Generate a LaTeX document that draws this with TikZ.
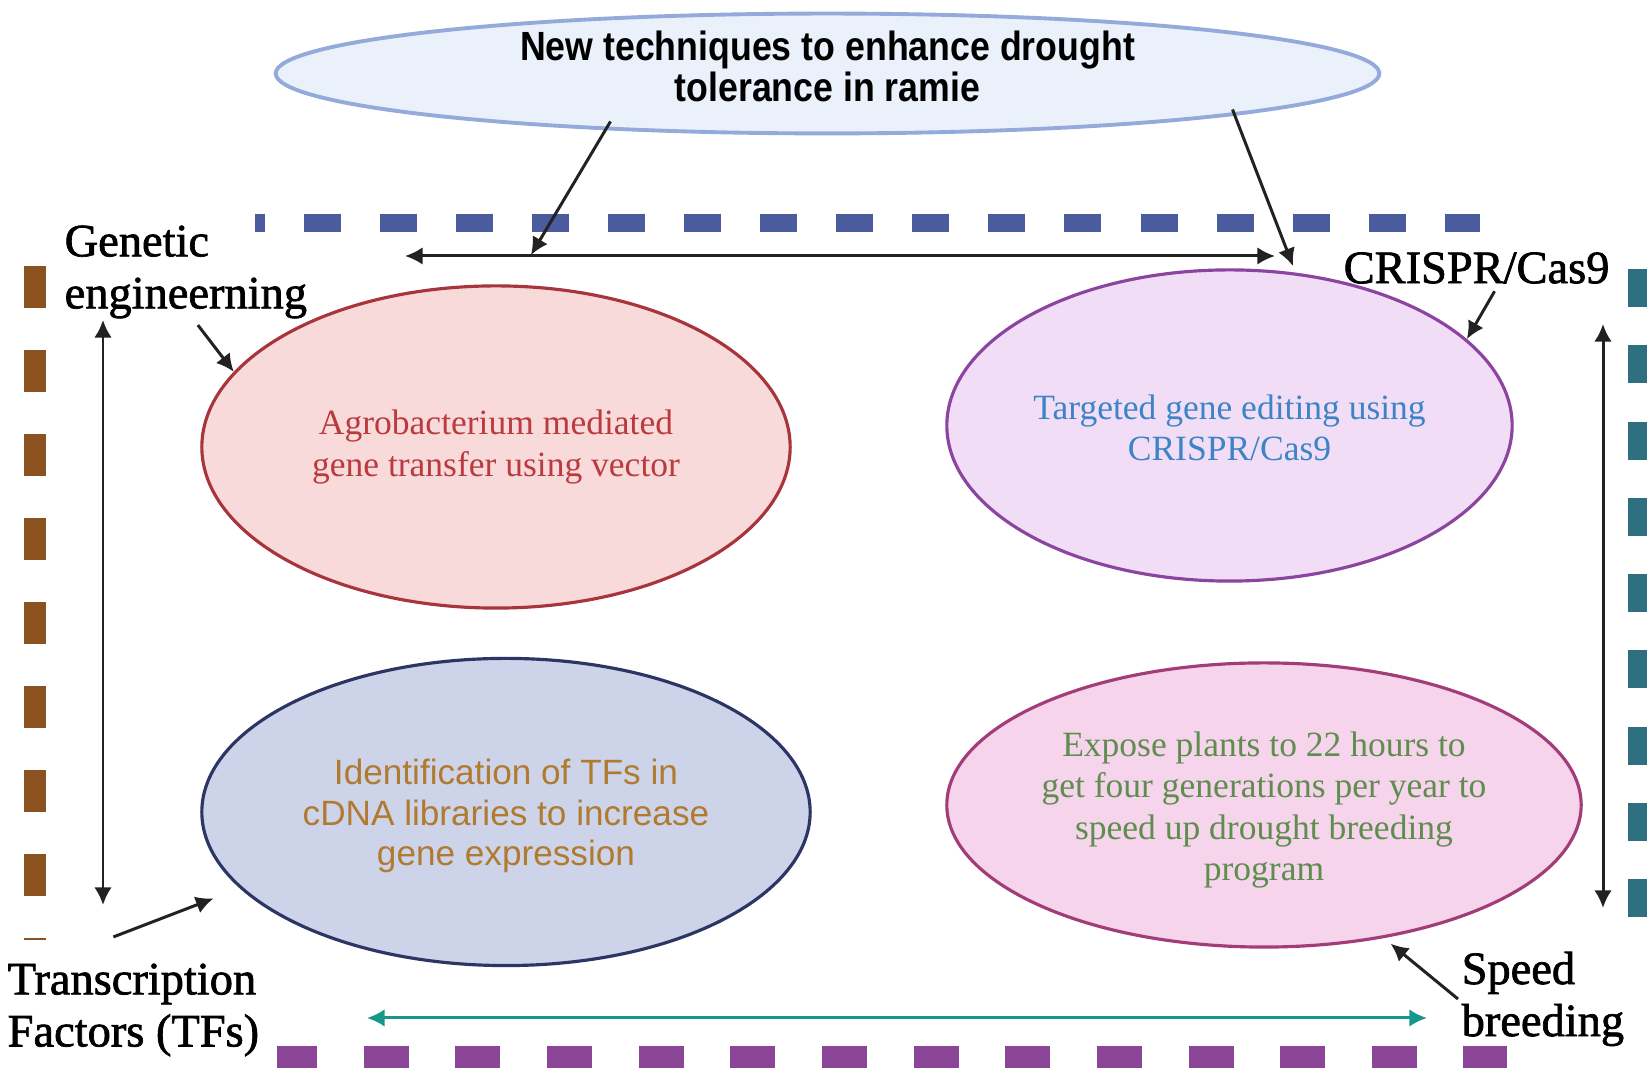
\documentclass[tikz,border=0pt]{standalone}
\usepackage{fontspec}
\setmainfont{Liberation Serif}
\newfontfamily\titlefont[FakeStretch=0.875]{Liberation Sans}
\newfontfamily\plainsans{Liberation Sans}
\newfontfamily\labelfont[FakeBold=1.5]{Liberation Serif}
\usepackage{xcolor}
\usetikzlibrary{arrows.meta,calc,positioning,shapes.geometric}

\definecolor{topfill}{HTML}{EAF1FB}
\definecolor{topedge}{HTML}{94AADB}
\definecolor{agrofill}{HTML}{F9DADB}
\definecolor{agroedge}{HTML}{A8343C}
\definecolor{agrotext}{HTML}{BA3A3E}
\definecolor{crisprfill}{HTML}{F2DDF7}
\definecolor{crispredge}{HTML}{8B449F}
\definecolor{crisprtext}{HTML}{3C84C6}
\definecolor{tffill}{HTML}{CDD4E9}
\definecolor{tfedge}{HTML}{2C3564}
\definecolor{tftext}{HTML}{B07B31}
\definecolor{speedfill}{HTML}{F5D4EC}
\definecolor{speededge}{HTML}{A33D79}
\definecolor{speedtext}{HTML}{5E8D4E}
\definecolor{dashblue}{HTML}{4A5B9E}
\definecolor{dashbrown}{HTML}{8B521F}
\definecolor{dashteal}{HTML}{2E6F80}
\definecolor{dashpurple}{HTML}{8A4596}
\definecolor{arrowteal}{HTML}{16978A}
\definecolor{arrowgray}{HTML}{222222}

\begin{document}
\begin{tikzpicture}[x=0.01cm, y=-0.01cm,
topnode/.style={ellipse, draw=topedge, fill=topfill, line width=1.1pt, minimum width=11.03cm, minimum height=1.05cm, inner sep=0pt, align=center, text depth=4pt, font=\titlefont\bfseries\fontsize{11.6pt}{11.7pt}\selectfont},
technode/.style={ellipse, line width=0.9pt, inner sep=0pt, align=center, font=\fontsize{10.1pt}{11.7pt}\selectfont},
labelnode/.style={inner sep=0pt, align=left, font=\labelfont\fontsize{13.2pt}{14.8pt}\selectfont},
linkarrow/.style={-{Latex[length=5pt,width=5pt]}, line width=0.85pt, draw=arrowgray},
bothways/.style={{Latex[length=5pt,width=5pt]}-{Latex[length=5pt,width=5pt]}, line width=0.85pt},
]
\useasboundingbox[fill=white] (0,0) rectangle (1650,1074);

%Frame
\draw[dashblue, line width=0.18cm, dash pattern=on 0.37cm off 0.39cm, dash phase=0.27cm] (255,223) -- (1480,223);
\draw[dashbrown, line width=0.21cm, dash pattern=on 0.42cm off 0.42cm] (35,266) -- (35,940);
\draw[dashteal, line width=0.19cm, dash pattern=on 0.38cm off 0.3825cm] (1637,269) -- (1637,917);
\draw[dashpurple, line width=0.22cm, dash pattern=on 0.45cm off 0.466cm, dash phase=0.05cm] (277,1057) -- (1507,1057);

%Nodes
\node[topnode] (topic) at (827.5,73.5) {New techniques to enhance drought\\tolerance in ramie};

\node[technode, draw=agroedge, fill=agrofill, text=agrotext, minimum width=5.88cm, minimum height=3.22cm] (agro) at (496,447) {Agrobacterium mediated\\gene transfer using vector};
\node[technode, draw=crispredge, fill=crisprfill, text=crisprtext, minimum width=5.65cm, minimum height=3.11cm] (crispr) at (1229.5,425.5) {\rule{0pt}{8.4pt}Targeted gene editing using\\CRISPR/Cas9};
\node[technode, draw=tfedge, fill=tffill, text=tftext, font=\plainsans\fontsize{10pt}{11.5pt}\selectfont, minimum width=6.08cm, minimum height=3.07cm] (tfs) at (506,812) {\rule{0pt}{9.7pt}Identification of TFs in\\cDNA libraries to increase\\gene expression};
\node[technode, draw=speededge, fill=speedfill, text=speedtext, minimum width=6.34cm, minimum height=2.84cm] (speed) at (1264,805) {\rule{0pt}{9.9pt}Expose plants to 22 hours to\\get four generations per year to\\speed up drought breeding\\program};

\node[labelnode, anchor=west] (gen) at (64,272) {Genetic\\engineerning};
\node[labelnode, anchor=west] (crisprlbl) at (1343,268) {CRISPR/Cas9};
\node[labelnode, anchor=west] (tf) at (7,1010) {Transcription\\Factors (TFs)};
\node[labelnode, anchor=west] (spd) at (1461,999) {Speed\\breeding};

\coordinate (gtip) at (531,255);
\coordinate (ctip) at (1293,266);
\coordinate (hleft) at (405,256);
\coordinate (hright) at (1275,256);
\coordinate (vlefttop) at (103,320);
\coordinate (vleftbot) at (103,905);
\coordinate (vrighttop) at (1603,324);
\coordinate (vrightbot) at (1603,908);
\coordinate (tealleft) at (367,1018);
\coordinate (tealright) at (1427,1018);

%Lines
\draw[linkarrow] ($(topic.center)+(-217,48)$) -- (gtip);
\draw[linkarrow] ($(topic.center)+(405,36)$) -- (ctip);
\draw[bothways, arrowgray] (hleft) -- (hright);
\draw[bothways, arrowgray] (vlefttop) -- (vleftbot);
\draw[bothways, arrowgray] (vrighttop) -- (vrightbot);
\draw[bothways, arrowteal] (tealleft) -- (tealright);

\draw[linkarrow] ([xshift=0.12cm,yshift=-0.06cm]gen.south) -- (agro.164);
\draw[linkarrow] ([xshift=0.18cm,yshift=-0.07cm]crisprlbl.south) -- (crispr.20);
\draw[linkarrow, shorten >=8pt] ([xshift=-0.2cm,yshift=0.26cm]tf.north) -- (tfs.196);
\draw[linkarrow, shorten >=2.5pt] ([xshift=-0.03cm]spd.west) -- (speed.312);
\end{tikzpicture}
\end{document}
